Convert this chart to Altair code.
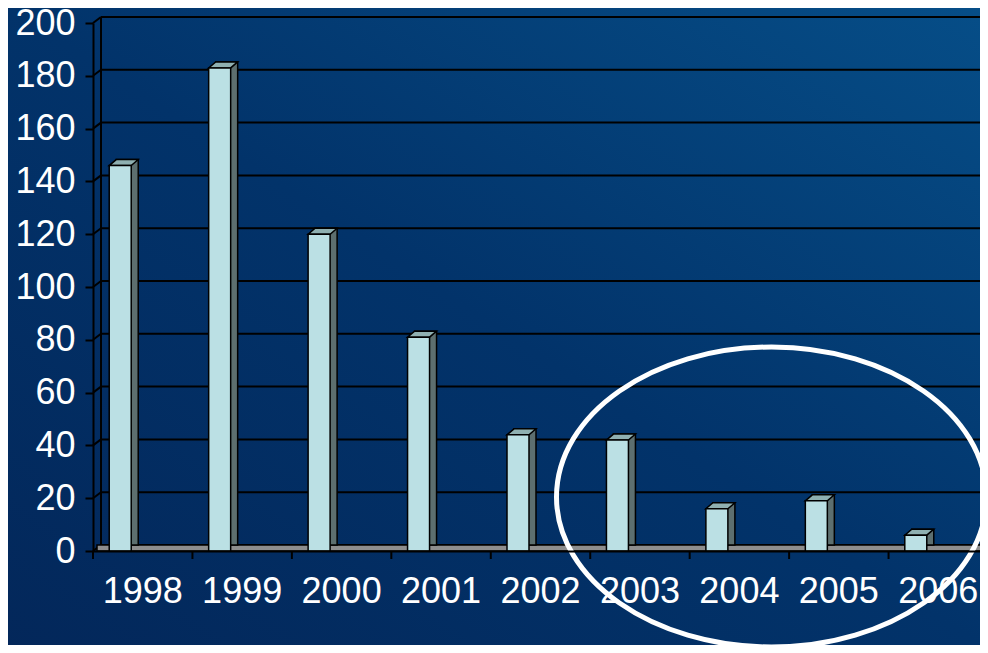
import altair as alt
import pandas as pd

years = ["1998", "1999", "2000", "2001", "2002", "2003", "2004", "2005", "2006"]
values = [146, 183, 120, 81, 44, 42, 16, 19, 6]
grid_values = [0, 20, 40, 60, 80, 100, 120, 140, 160, 180, 200]

df = pd.DataFrame({"year": years, "value": values})
gdf = pd.DataFrame({"v": grid_values})
one = pd.DataFrame({"a": [0]})

W, H = 887, 528
XR = 895
FONT = "Liberation Sans"

xscale = alt.Scale(paddingInner=0, paddingOuter=0, range=[0, XR])
xenc = alt.X("year:N", sort=years, scale=xscale,
             axis=alt.Axis(title=None, labelAngle=0, ticks=False, tickSize=0,
                           labelAlign="center", labelBaseline="top",
                           labelFont=FONT, labelFontSize=36, labelColor="white",
                           labelPadding=23,
                           domainColor="black", domainWidth=2, zindex=1))
yenc = alt.Y("value:Q", scale=alt.Scale(domain=[0, 200], nice=False),
             axis=alt.Axis(title=None, values=grid_values, grid=False,
                           labelFont=FONT, labelFontSize=36, labelColor="white",
                           labelPadding=10, tickSize=8, tickColor="black", tickWidth=2,
                           domainColor="black", domainWidth=2, zindex=1))

bg = alt.Chart(one).mark_rect(
    fill=alt.Gradient(gradient="linear", x1=0, y1=1, x2=1, y2=0,
                      stops=[alt.GradientStop(color="#03275a", offset=0),
                             alt.GradientStop(color="#02336a", offset=0.5),
                             alt.GradientStop(color="#064e88", offset=1)]),
    clip=False
).encode(x=alt.value(-90), x2=alt.value(W + 10), y=alt.value(-20), y2=alt.value(H + 100))

grid = alt.Chart(gdf).mark_rule(color="black", strokeWidth=2, yOffset=-6).encode(
    y=alt.Y("v:Q", scale=alt.Scale(domain=[0, 200], nice=False)),
    x=alt.value(8), x2=alt.value(XR))

connect = alt.Chart(gdf).mark_rule(color="black", strokeWidth=2, y2Offset=-6).encode(
    y=alt.Y("v:Q"), y2=alt.Y2("v"), x=alt.value(0), x2=alt.value(8))

backwall = alt.Chart(one).mark_rule(color="black", strokeWidth=2, yOffset=-6, y2Offset=-6).encode(
    y=alt.datum(200), y2=alt.datum(0), x=alt.value(8))

floor = alt.Chart(one).mark_rect(fill="#8e8e8e", stroke="black", strokeWidth=1.5,
                                 y2Offset=-6).encode(
    y=alt.datum(0), y2=alt.datum(0), x=alt.value(4), x2=alt.value(XR))

xticks = alt.Chart(df).mark_rule(color="black", strokeWidth=2, xOffset=-XR / 18).encode(
    x=alt.X("year:N", sort=years), y=alt.value(H), y2=alt.value(H + 8))

side = alt.Chart(df).mark_bar(width=22, xOffset=-15.5, yOffset=-6, y2Offset=-6,
                              fill="#5d6f6f", stroke="black", strokeWidth=1.5).encode(
    x=alt.X("year:N", sort=years), y=alt.Y("value:Q"))

top = alt.Chart(df).mark_point(shape="M -11 0 L 11 0 L 18 -6 L -4 -6 Z", size=4,
                               filled=True, fill="#8fb0b1", stroke="black",
                               strokeWidth=1.5, opacity=1, xOffset=-22.5).encode(
    x=alt.X("year:N", sort=years), y=alt.Y("value:Q"))

face = alt.Chart(df).mark_bar(width=22, xOffset=-22.5, fill="#bbe0e4",
                              stroke="black", strokeWidth=1.5).encode(x=xenc, y=yenc)

ellipse = alt.Chart(one).mark_point(
    shape="M -215 0 A 215 150 0 1 1 215 0 A 215 150 0 1 1 -215 0 Z",
    size=4, filled=False, stroke="white", strokeWidth=5, opacity=1, clip=False
).encode(x=alt.value(678.5), y=alt.value(474))

chart = alt.layer(bg, grid, connect, backwall, floor, xticks, side, top, face, ellipse).properties(
    width=W, height=H,
    padding={"left": 85, "top": 15, "right": 0, "bottom": 94},
    autosize=alt.AutoSizeParams(type="none"),
    background="#02336a",
).configure_view(stroke=None)

chart.save("out.html", embed_options={"renderer": "svg", "actions": False})
